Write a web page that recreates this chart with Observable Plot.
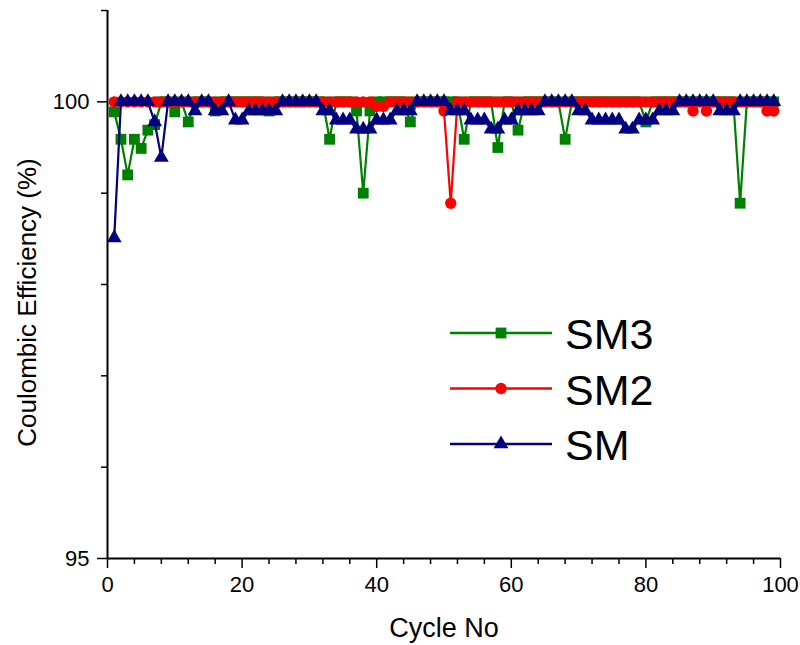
<!DOCTYPE html>
<html><head><meta charset="utf-8">
<script src="https://cdn.jsdelivr.net/npm/d3@7"></script>
<script src="https://cdn.jsdelivr.net/npm/@observablehq/plot@0.6"></script>
<style>body{margin:0;background:#fff;} #chart{position:relative;width:800px;height:645px;}</style>
</head><body><div id="chart"></div>
<script>
const cycles = [1,2,3,4,5,6,7,8,9,10,11,12,13,14,15,16,17,18,19,20,21,22,23,24,25,26,27,28,29,30,31,32,33,34,35,36,37,38,39,40,41,42,43,44,45,46,47,48,49,50,51,52,53,54,55,56,57,58,59,60,61,62,63,64,65,66,67,68,69,70,71,72,73,74,75,76,77,78,79,80,81,82,83,84,85,86,87,88,89,90,91,92,93,94,95,96,97,98,99];
const sm3 = [
 99.89,99.59,99.2,99.59,99.49,99.69,99.75,100,100,99.89,
 100,99.78,100,100,100,99.9,100,100,100,100,
 100,100,100,99.9,100,100,100,100,100,100,
 100,100,99.59,100,100,100,99.9,99.0,99.9,100,
 100,100,100,100,99.78,100,100,100,100,100,
 100,100,99.59,100,100,100,100,99.5,100,100,
 99.69,100,100,100,100,100,100,99.59,100,100,
 100,100,100,100,100,100,100,100,100,99.78,
 100,100,100,100,100,100,100,100,100,100,
 100,100,100,98.89,100,100,100,100,100];
const sm2 = [
 100,100,100,100,100,100,100,100,100,100,
 100,100,100,100,100,100,100,100,100,100,
 100,100,100,100,100,100,100,100,100,100,
 100,100,100,100,100,100,100,100,100,99.95,
 99.95,100,100,100,100,100,100,100,100,99.9,
 98.89,100,100,100,100,100,100,100,100,100,
 100,100,100,100,100,100,100,100,100,100,
 100,100,100,100,100,100,100,100,100,100,
 100,100,100,100,100,100,99.9,100,99.9,100,
 100,100,100,100,100,100,100,99.9,99.9];
const sm = [
 98.51,100,100,100,100,100,99.78,99.39,100,100,
 100,100,99.9,100,100,99.9,99.9,100,99.8,99.8,
 99.9,99.9,99.9,99.9,99.9,100,100,100,100,100,
 100,99.9,99.9,99.8,99.8,99.8,99.7,99.7,99.7,99.8,
 99.8,99.8,99.9,99.9,99.9,100,100,100,100,100,
 99.9,99.9,99.9,99.8,99.8,99.8,99.7,99.7,99.8,99.8,
 99.9,99.9,99.9,99.9,100,100,100,100,100,99.9,
 99.9,99.8,99.8,99.8,99.8,99.8,99.7,99.7,99.8,99.8,
 99.8,99.9,99.9,99.9,100,100,100,100,100,100,
 99.9,99.9,99.9,100,100,100,100,100,100];
const seriesNames = ["SM3","SM2","SM"];
const seriesColors = ["#008000","#ff0000","#000080"];
const seriesSymbols = ["square","circle","triangle"];
const xMajor = [0,20,40,60,80,100];
const xMinor = [4,8,12,16,24,28,32,36,44,48,52,56,64,68,72,76,84,88,92,96];
const yMajor = [95,100];
const yMinor = [96,97,98,99,101];
const xTitle = "Cycle No";
const yTitle = "Coulombic Efficiency (%)";

const font = "'Liberation Sans', Arial, sans-serif";
const valuesList = [sm3, sm2, sm];
const symbolR = [6.1, 5.7, 5.5];
const seriesData = valuesList.map((vals, k) => cycles.map((c, i) => ({cycle: c, value: vals[i], name: seriesNames[k]})));

const dataMarks = [];
seriesData.forEach((d, k) => {
  dataMarks.push(Plot.line(d, {x: "cycle", y: "value", stroke: seriesColors[k], strokeWidth: 2.2}));
  dataMarks.push(Plot.dot(d, {x: "cycle", y: "value", fill: seriesColors[k], symbol: () => seriesSymbols[k], r: symbolR[k], stroke: "none"}));
});

const plot = Plot.plot({
  width: 800, height: 645,
  marginLeft: 107, marginRight: 20, marginTop: 10, marginBottom: 87,
  style: {fontFamily: font, background: "#fff", color: "#000"},
  x: {domain: [0, 100]},
  y: {domain: [95, 101]},
  symbol: {domain: seriesSymbols, range: seriesSymbols},
  marks: [
    Plot.axisX({ticks: xMajor, tickSize: 10, tickPadding: 8, fontSize: 22, label: null, strokeWidth: 1.5, tickFormat: d3.format("d")}),
    Plot.axisX({ticks: xMinor, tickSize: 6, text: null, label: null, strokeWidth: 1.5}),
    Plot.axisY({ticks: yMajor, tickSize: 10, tickPadding: 8, fontSize: 22, label: null, strokeWidth: 1.5, tickFormat: d3.format("d")}),
    Plot.axisY({ticks: yMinor, tickSize: 6, text: null, label: null, strokeWidth: 1.5}),
    Plot.ruleX([0], {strokeWidth: 2}),
    Plot.ruleY([95], {strokeWidth: 2}),
    ...dataMarks,
    Plot.text([xTitle], {frameAnchor: "bottom", dy: 78, fontSize: 27, text: d => d}),
    Plot.text([yTitle], {frameAnchor: "left", textAnchor: "middle", rotate: -90, dx: -80, dy: 18, fontSize: 26, text: d => d})
  ]
});
document.getElementById("chart").appendChild(plot);

// legend
const svg = d3.select(plot);
const lg = svg.append("g");
const d3Sym = {square: d3.symbolSquare, circle: d3.symbolCircle, triangle: d3.symbolTriangle};
seriesNames.forEach((name, k) => {
  const yy = 333 + k * 55.5;
  lg.append("line").attr("x1", 450).attr("x2", 552).attr("y1", yy).attr("y2", yy)
    .attr("stroke", seriesColors[k]).attr("stroke-width", 2.5);
  lg.append("path").attr("transform", `translate(501,${yy})`)
    .attr("d", d3.symbol().type(d3Sym[seriesSymbols[k]]).size(Math.PI * symbolR[k] * symbolR[k])())
    .attr("fill", seriesColors[k]);
  lg.append("text").attr("x", 565).attr("y", yy + 16).attr("font-size", 43)
    .attr("text-anchor", "start")
    .attr("font-family", font).attr("fill", "#000").text(name);
});
</script></body></html>
